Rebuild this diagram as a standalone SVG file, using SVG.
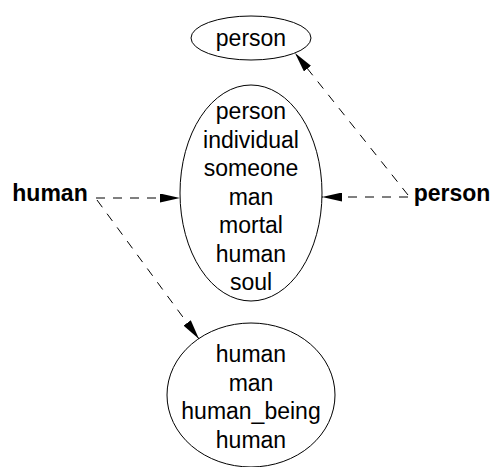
<svg xmlns="http://www.w3.org/2000/svg" width="490" height="467" viewBox="0 0 490 467">
  <style>
    .node ellipse { fill: none; stroke: #000; stroke-width: 1; }
    text { font-family: "Liberation Sans", Arial, sans-serif; font-size: 23px; text-anchor: middle; fill: #000; }
    .lbl { font-weight: bold; }
    .edge { fill: none; stroke: #000; stroke-width: 1; stroke-dasharray: 9,8; }
  </style>
  <defs>
    <marker id="arrow" viewBox="0 0 20 9" refX="20" refY="4.5" markerWidth="20" markerHeight="9" markerUnits="userSpaceOnUse" orient="auto">
      <path d="M0,0 L20,4.5 L0,9 Z" fill="#000"/>
    </marker>
  </defs>
  <rect width="490" height="467" fill="#fff"/>

  <g id="connectors">
    <path class="edge" d="M96,198 L180,198" marker-end="url(#arrow)"/>
    <path class="edge" d="M97,200 L199,339" marker-end="url(#arrow)"/>
    <path class="edge" d="M408,197 L322,197" marker-end="url(#arrow)"/>
    <path class="edge" d="M408,195 L295,53" marker-end="url(#arrow)"/>
  </g>

  <g id="person-top" class="node">
    <ellipse cx="251" cy="38" rx="60" ry="22"/>
    <text x="251" y="46">person</text>
  </g>

  <g id="person-synset" class="node">
    <ellipse cx="251" cy="193" rx="71" ry="108"/>
    <text x="251" y="119">person</text>
    <text x="251" y="147.5">individual</text>
    <text x="251" y="176">someone</text>
    <text x="251" y="204.5">man</text>
    <text x="251" y="233">mortal</text>
    <text x="251" y="261.5">human</text>
    <text x="251" y="290">soul</text>
  </g>

  <g id="human-synset" class="node">
    <ellipse cx="251" cy="395" rx="84" ry="72"/>
    <text x="251" y="362">human</text>
    <text x="251" y="390.5">man</text>
    <text x="251" y="419">human_being</text>
    <text x="251" y="447.5">human</text>
  </g>

  <g id="human-label">
    <text class="lbl" x="50" y="201">human</text>
  </g>

  <g id="person-label">
    <text class="lbl" x="452" y="201">person</text>
  </g>
</svg>
